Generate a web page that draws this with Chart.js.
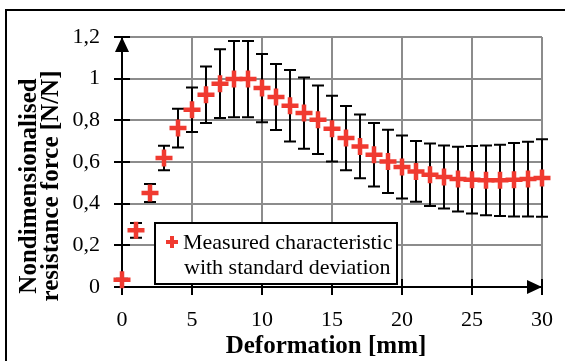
<!DOCTYPE html>
<html>
<head>
<meta charset="utf-8">
<script src="https://cdn.jsdelivr.net/npm/chart.js@4/dist/chart.umd.min.js"></script>
<style>
  html, body { margin: 0; padding: 0; background: #fff; }
  #wrap { width: 565px; height: 361px; position: relative; }
</style>
</head>
<body>
<div id="wrap"><canvas id="c" width="565" height="361"></canvas></div>
<script>
// Deformation steps [mm]
const deformation = [0, 1, 2, 3, 4, 5, 6, 7, 8, 9, 10, 11, 12, 13, 14, 15,
                     16, 17, 18, 19, 20, 21, 22, 23, 24, 25, 26, 27, 28, 29, 30];
// Mean nondimensionalised resistance force [N/N]
const meanForce = [0.035, 0.272, 0.451, 0.619, 0.763, 0.851, 0.923, 0.976, 0.998, 0.998,
                   0.955, 0.912, 0.870, 0.835, 0.803, 0.760, 0.715, 0.675, 0.635, 0.603,
                   0.576, 0.555, 0.539, 0.528, 0.518, 0.515, 0.512, 0.512, 0.515, 0.518, 0.523];
// Standard deviation of the force
const stdForce = [0.005, 0.035, 0.043, 0.059, 0.093, 0.107, 0.136, 0.165, 0.183, 0.183,
                  0.164, 0.158, 0.172, 0.171, 0.164, 0.158, 0.154, 0.153, 0.152, 0.152,
                  0.151, 0.146, 0.150, 0.151, 0.155, 0.162, 0.167, 0.171, 0.176, 0.179, 0.186];
// Axis tick values
const xTicks = [0, 5, 10, 15, 20, 25, 30];
const yTicks = [0, 0.2, 0.4, 0.6, 0.8, 1, 1.2];

const legendLines = ['Measured characteristic', 'with standard deviation'];
const xTitle = 'Deformation [mm]';
const yTitleLines = ['Nondimensionalised', 'resistance force [N/N]'];

const RED = '#f03a30';
const GRID = '#8c8c8c';
const SERIF = '"Liberation Serif", "Times New Roman", serif';

const fmt = v => String(Math.round(v * 10) / 10).replace('.', ',');

const decor = {
  id: 'decor',
  beforeDraw(chart) {
    const ctx = chart.ctx;
    ctx.save();
    ctx.fillStyle = '#fff';
    ctx.fillRect(0, 0, chart.width, chart.height);
    // outer frame
    ctx.strokeStyle = '#000';
    ctx.lineWidth = 2;
    ctx.beginPath();
    ctx.moveTo(chart.width + 5, 10);
    ctx.lineTo(6, 10);
    ctx.lineTo(6, chart.height + 5);
    ctx.stroke();
    ctx.restore();
  },
  beforeDatasetsDraw(chart) {
    const ctx = chart.ctx;
    const xs = chart.scales.x, ys = chart.scales.y;
    const x0 = xs.getPixelForValue(0), y0 = ys.getPixelForValue(0);
    ctx.save();
    ctx.strokeStyle = '#000';
    ctx.fillStyle = '#000';
    ctx.lineWidth = 2;
    // crossing tick marks
    ctx.beginPath();
    yTicks.forEach(v => {
      const y = Math.round(ys.getPixelForValue(v));
      ctx.moveTo(x0 - 8, y); ctx.lineTo(x0 + 8, y);
    });
    xTicks.forEach(v => {
      const x = Math.round(xs.getPixelForValue(v));
      ctx.moveTo(x, y0 - 8); ctx.lineTo(x, y0 + 8);
    });
    ctx.stroke();
    // axis arrows
    const yTop = ys.getPixelForValue(1.2);
    ctx.beginPath();
    ctx.moveTo(x0, yTop);
    ctx.lineTo(x0 - 7, yTop + 15);
    ctx.lineTo(x0 + 7, yTop + 15);
    ctx.closePath();
    ctx.fill();
    const xEnd = xs.getPixelForValue(30);
    ctx.beginPath();
    ctx.moveTo(xEnd, y0);
    ctx.lineTo(xEnd - 15, y0 - 7);
    ctx.lineTo(xEnd - 15, y0 + 7);
    ctx.closePath();
    ctx.fill();
    // error bars
    ctx.beginPath();
    deformation.forEach((d, i) => {
      const x = Math.round(xs.getPixelForValue(d));
      const yHi = ys.getPixelForValue(meanForce[i] + stdForce[i]);
      const yLo = ys.getPixelForValue(meanForce[i] - stdForce[i]);
      ctx.moveTo(x, yHi); ctx.lineTo(x, yLo);
      ctx.moveTo(x - 6, yHi); ctx.lineTo(x + 6, yHi);
      ctx.moveTo(x - 6, yLo); ctx.lineTo(x + 6, yLo);
    });
    ctx.stroke();
    ctx.restore();
  },
  afterDraw(chart) {
    const ctx = chart.ctx;
    ctx.save();
    // legend
    const lx = 155, ly = 223, lw = 242, lh = 61;
    ctx.fillStyle = '#fff';
    ctx.fillRect(lx, ly, lw, lh);
    ctx.strokeStyle = '#000';
    ctx.lineWidth = 2;
    ctx.strokeRect(lx, ly, lw, lh);
    ctx.strokeStyle = RED;
    ctx.lineWidth = 4;
    Chart.helpers.drawPoint(ctx, { pointStyle: 'cross', radius: 6, rotation: 0, borderWidth: 4 }, 172, 242);
    ctx.fillStyle = '#000';
    ctx.font = '22px ' + SERIF;
    ctx.textAlign = 'left';
    ctx.textBaseline = 'alphabetic';
    ctx.fillText(legendLines[0], 183, 249);
    ctx.fillText(legendLines[1], 184, 274);
    // axis titles
    ctx.font = 'bold 25px ' + SERIF;
    ctx.textAlign = 'center';
    ctx.fillText(xTitle, 326, 353);
    ctx.translate(0, 186);
    ctx.rotate(-Math.PI / 2);
    ctx.fillText(yTitleLines[0], 0, 36);
    ctx.fillText(yTitleLines[1], 0, 58);
    ctx.restore();
  }
};

new Chart(document.getElementById('c'), {
  type: 'scatter',
  data: {
    datasets: [{
      label: legendLines.join(' '),
      data: deformation.map((d, i) => ({ x: d, y: meanForce[i] })),
      pointStyle: 'cross',
      pointRadius: 8.5,
      pointHoverRadius: 8.5,
      borderWidth: 4.5,
      pointBorderWidth: 4.5,
      borderColor: RED,
      backgroundColor: RED,
      showLine: false,
      clip: false
    }]
  },
  options: {
    responsive: false,
    animation: false,
    events: [],
    layout: { padding: { top: 37, right: 23, left: 0, bottom: 0 } },
    plugins: { legend: { display: false }, tooltip: { enabled: false } },
    scales: {
      x: {
        type: 'linear', min: 0, max: 30,
        afterFit: s => { s.height = 74; s.paddingLeft = 0; s.paddingRight = 0; },
        afterBuildTicks: s => { s.ticks = xTicks.map(v => ({ value: v })); },
        grid: { color: GRID, lineWidth: 2, drawTicks: false },
        border: { color: '#000', width: 2 },
        ticks: { color: '#000', padding: 20, font: { family: SERIF, size: 22 }, maxRotation: 0 }
      },
      y: {
        type: 'linear', min: 0, max: 1.2,
        afterFit: s => { s.width = 122; s.paddingTop = 0; s.paddingBottom = 0; },
        afterBuildTicks: s => { s.ticks = yTicks.map(v => ({ value: v })); },
        grid: { color: GRID, lineWidth: 2, drawTicks: false },
        border: { color: '#000', width: 2 },
        ticks: { color: '#000', padding: 22, font: { family: SERIF, size: 22 }, callback: v => fmt(v) }
      }
    }
  },
  plugins: [decor]
});
</script>
</body>
</html>
